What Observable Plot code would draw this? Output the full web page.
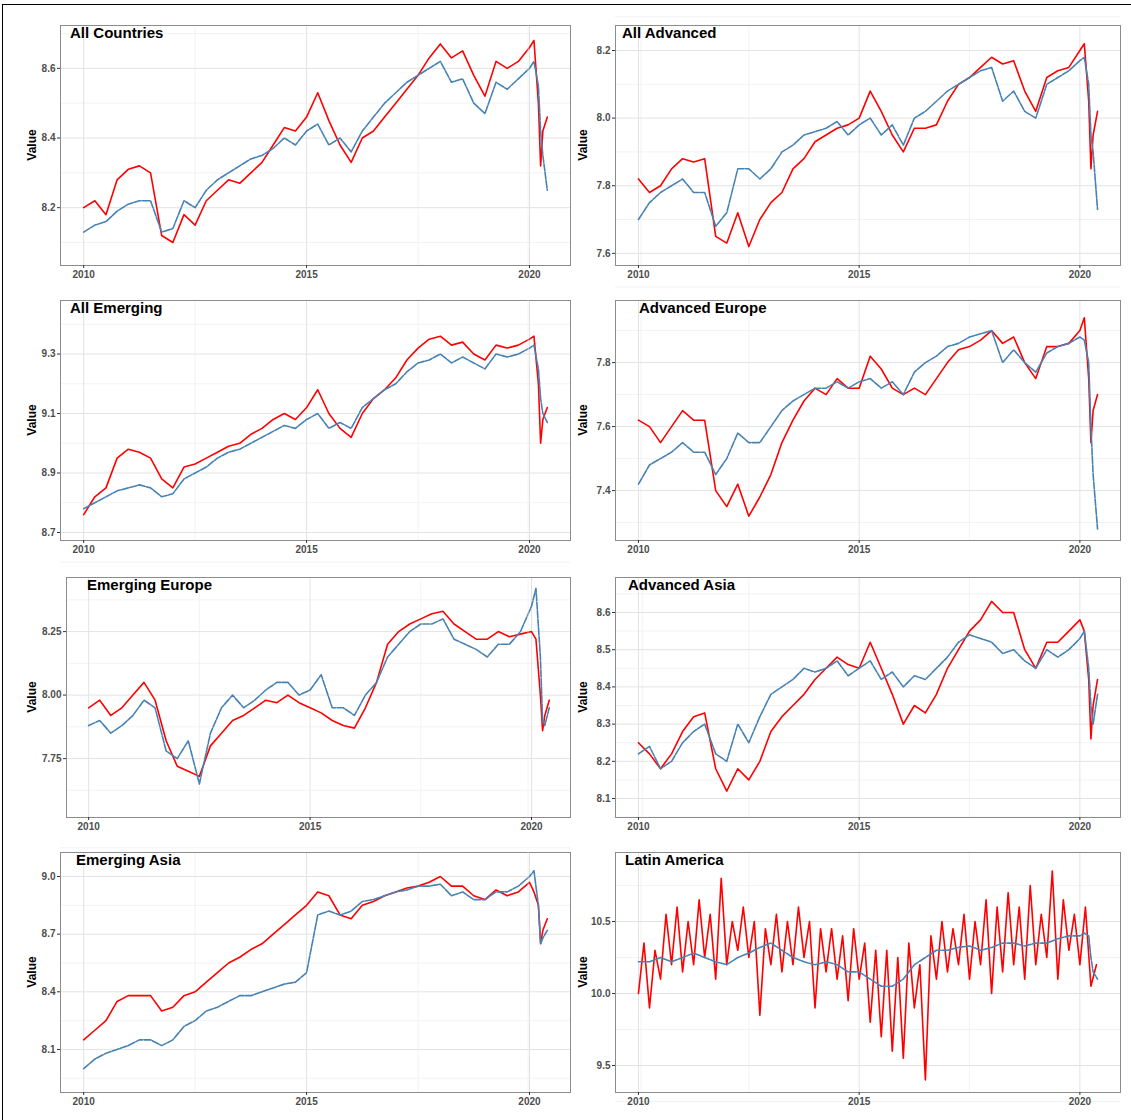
<!DOCTYPE html>
<html><head><meta charset="utf-8">
<script src="https://cdn.jsdelivr.net/npm/d3@7"></script>
<script src="https://cdn.jsdelivr.net/npm/@observablehq/plot@0.6"></script>
<style>
body{margin:0;background:#fff;font-family:"Liberation Sans",Arial,sans-serif;}
#wrap{position:relative;width:1131px;height:1120px;}
#border{position:absolute;left:2px;top:4px;width:1140px;height:1120px;border-left:1px solid #000;border-top:1px solid #000;}
.ttl{position:absolute;font-weight:bold;font-size:15px;color:#000;}
.ylab{position:absolute;font-weight:bold;font-size:12px;transform:rotate(-90deg);transform-origin:center;width:40px;text-align:center;}
svg{position:absolute;}
</style></head><body><div id="wrap"><div id="border"></div></div>
<script>
const times=[2010,2010.25,2010.5,2010.75,2011,2011.25,2011.5,2011.75,2012,2012.25,2012.5,2012.75,2013,2013.25,2013.5,2013.75,2014,2014.25,2014.5,2014.75,2015,2015.25,2015.5,2015.75,2016,2016.25,2016.5,2016.75,2017,2017.25,2017.5,2017.75,2018,2018.25,2018.5,2018.75,2019,2019.25,2019.5,2019.75,2020,2020.1,2020.2,2020.25,2020.3,2020.4];
const titles=["All Countries","All Advanced","All Emerging","Advanced Europe","Emerging Europe","Advanced Asia","Emerging Asia","Latin America"];
const xTicks=[2010,2015,2020];
const allCountriesRed=[8.2,8.22,8.18,8.28,8.31,8.32,8.3,8.12,8.1,8.18,8.15,8.22,8.25,8.28,8.27,8.3,8.33,8.38,8.43,8.42,8.46,8.53,8.45,8.38,8.33,8.4,8.42,8.46,8.5,8.54,8.58,8.63,8.67,8.63,8.65,8.58,8.52,8.62,8.6,8.62,8.66,8.68,8.5,8.32,8.42,8.46];
const allCountriesBlue=[8.13,8.15,8.16,8.19,8.21,8.22,8.22,8.13,8.14,8.22,8.2,8.25,8.28,8.3,8.32,8.34,8.35,8.37,8.4,8.38,8.42,8.44,8.38,8.4,8.36,8.42,8.46,8.5,8.53,8.56,8.58,8.6,8.62,8.56,8.57,8.5,8.47,8.56,8.54,8.57,8.6,8.62,8.55,8.42,8.35,8.25];
const allAdvancedRed=[7.82,7.78,7.8,7.85,7.88,7.87,7.88,7.65,7.63,7.72,7.62,7.7,7.75,7.78,7.85,7.88,7.93,7.95,7.97,7.98,8.0,8.08,8.02,7.95,7.9,7.97,7.97,7.98,8.05,8.1,8.12,8.15,8.18,8.16,8.17,8.08,8.02,8.12,8.14,8.15,8.2,8.22,8.05,7.85,7.95,8.02];
const allAdvancedBlue=[7.7,7.75,7.78,7.8,7.82,7.78,7.78,7.68,7.72,7.85,7.85,7.82,7.85,7.9,7.92,7.95,7.96,7.97,7.99,7.95,7.98,8.0,7.95,7.98,7.92,8.0,8.02,8.05,8.08,8.1,8.12,8.14,8.15,8.05,8.08,8.02,8.0,8.1,8.12,8.14,8.17,8.18,8.1,7.95,7.9,7.73];
const allEmergingRed=[8.76,8.82,8.85,8.95,8.98,8.97,8.95,8.88,8.85,8.92,8.93,8.95,8.97,8.99,9.0,9.03,9.05,9.08,9.1,9.08,9.12,9.18,9.1,9.05,9.02,9.1,9.15,9.18,9.22,9.28,9.32,9.35,9.36,9.33,9.34,9.3,9.28,9.33,9.32,9.33,9.35,9.36,9.2,9.0,9.08,9.12];
const allEmergingBlue=[8.78,8.8,8.82,8.84,8.85,8.86,8.85,8.82,8.83,8.88,8.9,8.92,8.95,8.97,8.98,9.0,9.02,9.04,9.06,9.05,9.08,9.1,9.05,9.07,9.05,9.12,9.15,9.18,9.2,9.24,9.27,9.28,9.3,9.27,9.29,9.27,9.25,9.3,9.29,9.3,9.32,9.33,9.25,9.15,9.1,9.07];
const advEuropeRed=[7.62,7.6,7.55,7.6,7.65,7.62,7.62,7.4,7.35,7.42,7.32,7.38,7.45,7.55,7.62,7.68,7.72,7.7,7.75,7.72,7.72,7.82,7.78,7.72,7.7,7.72,7.7,7.75,7.8,7.84,7.85,7.87,7.9,7.86,7.88,7.8,7.75,7.85,7.85,7.86,7.9,7.94,7.75,7.55,7.65,7.7];
const advEuropeBlue=[7.42,7.48,7.5,7.52,7.55,7.52,7.52,7.45,7.5,7.58,7.55,7.55,7.6,7.65,7.68,7.7,7.72,7.72,7.74,7.72,7.74,7.75,7.72,7.74,7.7,7.77,7.8,7.82,7.85,7.86,7.88,7.89,7.9,7.8,7.84,7.8,7.77,7.83,7.85,7.86,7.88,7.87,7.8,7.6,7.45,7.28];
const emEuropeRed=[7.95,7.98,7.92,7.95,8.0,8.05,7.98,7.82,7.72,7.7,7.68,7.8,7.85,7.9,7.92,7.95,7.98,7.97,8.0,7.97,7.95,7.93,7.9,7.88,7.87,7.95,8.05,8.2,8.25,8.28,8.3,8.32,8.33,8.28,8.25,8.22,8.22,8.25,8.23,8.24,8.25,8.22,8.0,7.86,7.92,7.98];
const emEuropeBlue=[7.88,7.9,7.85,7.88,7.92,7.98,7.95,7.78,7.75,7.82,7.65,7.85,7.95,8.0,7.95,7.98,8.02,8.05,8.05,8.0,8.02,8.08,7.95,7.95,7.92,8.0,8.05,8.15,8.2,8.25,8.28,8.28,8.3,8.22,8.2,8.18,8.15,8.2,8.2,8.25,8.35,8.42,8.15,7.9,7.88,7.95];
const advAsiaRed=[8.25,8.22,8.18,8.22,8.28,8.32,8.33,8.18,8.12,8.18,8.15,8.2,8.28,8.32,8.35,8.38,8.42,8.45,8.48,8.46,8.45,8.52,8.45,8.38,8.3,8.35,8.33,8.38,8.45,8.5,8.55,8.58,8.63,8.6,8.6,8.5,8.45,8.52,8.52,8.55,8.58,8.55,8.42,8.26,8.35,8.42];
const advAsiaBlue=[8.22,8.24,8.18,8.2,8.25,8.28,8.3,8.22,8.2,8.3,8.25,8.32,8.38,8.4,8.42,8.45,8.44,8.45,8.47,8.43,8.45,8.47,8.42,8.44,8.4,8.43,8.42,8.45,8.48,8.52,8.54,8.53,8.52,8.49,8.5,8.47,8.45,8.5,8.48,8.5,8.53,8.55,8.45,8.35,8.3,8.38];
const emAsiaRed=[8.15,8.2,8.25,8.35,8.38,8.38,8.38,8.3,8.32,8.38,8.4,8.45,8.5,8.55,8.58,8.62,8.65,8.7,8.75,8.8,8.85,8.92,8.9,8.8,8.78,8.85,8.87,8.9,8.92,8.94,8.95,8.97,9.0,8.95,8.95,8.9,8.88,8.93,8.9,8.92,8.97,8.92,8.85,8.65,8.72,8.78];
const emAsiaBlue=[8.0,8.05,8.08,8.1,8.12,8.15,8.15,8.12,8.15,8.22,8.25,8.3,8.32,8.35,8.38,8.38,8.4,8.42,8.44,8.45,8.5,8.8,8.82,8.8,8.82,8.87,8.88,8.9,8.92,8.93,8.95,8.95,8.96,8.9,8.92,8.88,8.88,8.92,8.92,8.95,9.0,9.03,8.85,8.65,8.68,8.72];
const latamBlue=[10.22,10.22,10.25,10.22,10.25,10.28,10.25,10.22,10.2,10.25,10.28,10.32,10.35,10.3,10.25,10.22,10.2,10.22,10.2,10.15,10.15,10.1,10.05,10.05,10.1,10.2,10.25,10.3,10.3,10.32,10.33,10.3,10.32,10.35,10.35,10.33,10.35,10.35,10.38,10.4,10.4,10.42,10.4,10.25,10.15,10.1];
const latamRedTimes=d3.range(84).map(i=>2010+i/8);
const latamRed=[10.0,10.35,9.9,10.3,10.1,10.55,10.2,10.6,10.15,10.5,10.2,10.65,
10.25,10.55,10.1,10.8,10.2,10.5,10.3,10.6,10.25,10.5,9.85,10.45,
10.2,10.55,10.15,10.5,10.2,10.6,10.25,10.5,9.9,10.45,10.15,10.45,
10.1,10.4,9.95,10.45,10.1,10.35,9.8,10.3,9.7,10.3,9.6,10.25,
9.55,10.35,9.9,10.2,9.4,10.4,10.1,10.5,10.15,10.45,10.2,10.55,
10.1,10.5,10.2,10.65,10.0,10.6,10.15,10.7,10.2,10.6,10.1,10.75,
10.2,10.55,10.25,10.85,10.1,10.65,10.3,10.55,10.2,10.6,10.05,10.2];
const yTicks=[[8.2,8.4,8.6],[7.6,7.8,8.0,8.2],[8.7,8.9,9.1,9.3],[7.4,7.6,7.8],[7.75,8.0,8.25],[8.1,8.2,8.3,8.4,8.5,8.6],[8.1,8.4,8.7,9.0],[9.5,10.0,10.5]];
const yTickFmt=[d3.format(".1f"),d3.format(".1f"),d3.format(".1f"),d3.format(".1f"),d3.format(".2f"),d3.format(".1f"),d3.format(".1f"),d3.format(".1f")];
const yDomains=[[8.034,8.723],[7.564,8.274],[8.673,9.48],[7.244,7.994],[7.518,8.463],[8.049,8.694],[7.876,9.125],[9.3125,10.979]];
const reds=[allCountriesRed,allAdvancedRed,allEmergingRed,advEuropeRed,emEuropeRed,advAsiaRed,emAsiaRed,latamRed];
const blues=[allCountriesBlue,allAdvancedBlue,allEmergingBlue,advEuropeBlue,emEuropeBlue,advAsiaBlue,emAsiaBlue,latamBlue];
const titleX=[70,622,70,639,87,628,76,625];
const frameTops=[25,300,577,852];
const wrap=document.getElementById("wrap");
for(let k=0;k<8;k++){
  const col=k%2,row=Math.floor(k/2);
  const left=col?555:2;
  const ml=col?60:(k===4?64:58);
  const width=col?567:570;
  const plotW=col?505:(k===4?504:510);
  const top=frameTops[row]-2;
  const rt=k===7?latamRedTimes:times;
  const red=reds[k].map((v,i)=>({t:rt[i],v}));
  const blue=blues[k].map((v,i)=>({t:times[i],v}));
  const yt=yTicks[k];
  const step=yt[1]-yt[0];
  const minorY=[yt[0]-step/2,...yt.map(v=>v+step/2)];
  const p=Plot.plot({
    width,height:264,marginLeft:ml,marginRight:width-ml-plotW,marginTop:2,marginBottom:22,
    x:{domain:k===4?[2009.5,2020.88]:[2009.48,2020.92]},
    y:{domain:yDomains[k]},
    style:{fontFamily:"Liberation Sans, Arial, sans-serif",overflow:"visible"},
    marks:[
      Plot.gridX([2007.5,2012.5,2017.5,2022.5],{stroke:"#ebebeb",strokeOpacity:1,strokeWidth:0.6}),
      Plot.gridY(minorY,{stroke:"#ebebeb",strokeOpacity:1,strokeWidth:0.6}),
      Plot.gridX(xTicks,{stroke:"#e3e3e3",strokeOpacity:1,strokeWidth:1}),
      Plot.gridY(yt,{stroke:"#e3e3e3",strokeOpacity:1,strokeWidth:1}),
      Plot.line(red,{x:"t",y:"v",stroke:"#ff0000",strokeWidth:1.6}),
      Plot.line(blue,{x:"t",y:"v",stroke:"steelblue",strokeWidth:1.6,strokeDasharray:"7,1.5"}),
      Plot.frame({stroke:"#8c8c8c"}),
      Plot.axisX({ticks:xTicks,tickFormat:d=>String(d),tickSize:3,tickPadding:2,fontSize:10,fontWeight:"bold",fill:"#4d4d4d",stroke:"#333",label:null}),
      Plot.axisY({ticks:yt,tickFormat:yTickFmt[k],tickSize:3,tickPadding:2,fontSize:10,fontWeight:"bold",fill:"#4d4d4d",stroke:"#333",label:null})
    ]
  });
  p.style.left=left+"px";p.style.top=top+"px";
  wrap.appendChild(p);
  const t=document.createElement("div");t.className="ttl";t.textContent=titles[k];
  t.style.left=titleX[k]+"px";t.style.top=(frameTops[row]-1)+"px";wrap.appendChild(t);
  const y=document.createElement("div");y.className="ylab";y.textContent="Value";
  y.style.left=(col?563:12)+"px";y.style.top=(frameTops[row]+113)+"px";wrap.appendChild(y);
}
</script></body></html>
